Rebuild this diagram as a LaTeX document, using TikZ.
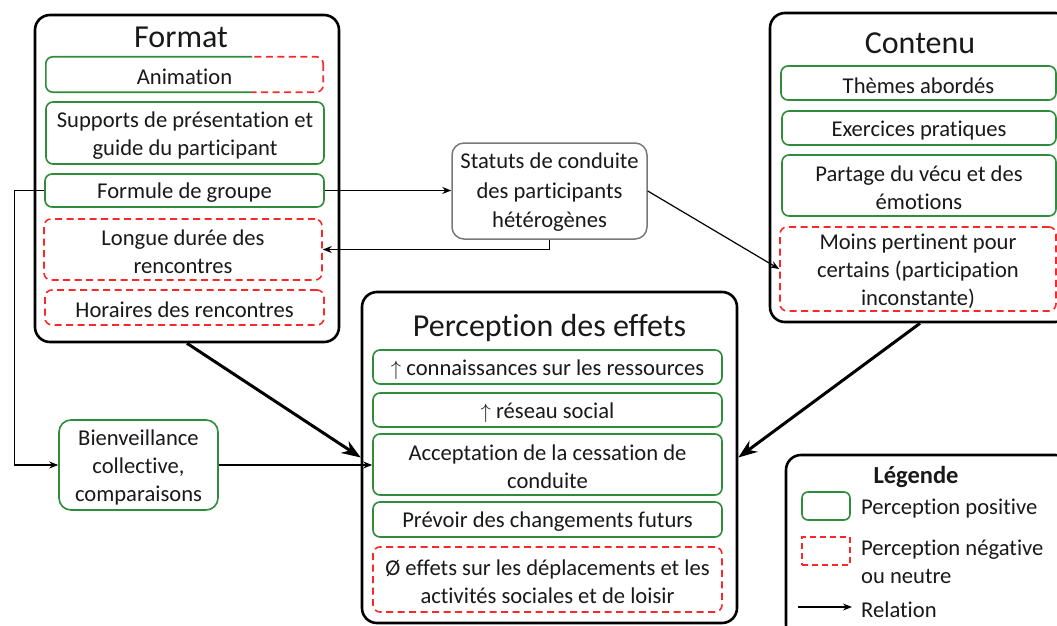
\documentclass[tikz,border=0pt]{standalone}
\usepackage{fontspec}
\setmainfont{Carlito}[Ligatures=NoCommon]
\usetikzlibrary{arrows.meta}
\definecolor{gline}{RGB}{46,140,58}
\definecolor{rline}{RGB}{250,40,40}
\definecolor{sline}{RGB}{120,120,120}
\definecolor{tcol}{RGB}{25,25,25}
% box drawn as a named node; its text as a second named node, set 2.5px lower
\newcommand\tbox[4]{\node[#1] (#2) at (#3) {}; \node[txt, inner sep=0, yshift=-2.5pt] (#2t) at (#2.center) {#4};}
\begin{document}
\begin{tikzpicture}[x=1pt,y=-1pt,
  sz/.style 2 args={minimum width=#1pt, minimum height=#2pt},
  txt/.style={font=\fontsize{22.6}{28}\selectfont, align=center, text=tcol},
  ttl/.style={font=\fontsize{32}{38}\selectfont, text=tcol, inner sep=0},
  posbox/.style={draw=gline, line width=1.6pt, rounded corners=7pt, inner sep=0},
  negbox/.style={draw=rline, line width=1.6pt, dash pattern=on 7pt off 4.5pt, rounded corners=7pt, inner sep=0},
  outerbox/.style={draw=black, line width=2.6pt, rounded corners=15pt, inner sep=0},
  rel/.style={-{Stealth[length=9pt,width=7pt]}, line width=1.2pt},
  bigarrow/.style={-{Stealth[length=19pt,width=14pt]}, line width=3pt}]
\useasboundingbox (0,0) rectangle (1057,626);
\fill[white] (0,0) rectangle (1057,626);

% outer boxes
\node[outerbox, sz={304}{327}] (fmt) at (187,178.5) {};
\node[outerbox, sz={300}{309}] (cont) at (920,167.5) {};
\node[outerbox, sz={375}{331}] (perc) at (549.5,457.5) {};
\node[outerbox, sz={284}{185}] (leg) at (928,547.5) {};

% titles
\node[ttl] (tfmt) at (181,37.5) {Format};
\node[ttl] (tcont) at (920,43.5) {Contenu};
\node[ttl] (tperc) at (549.5,327.5) {Perception des effets};

% Format items
\tbox{inner sep=0, sz={277}{35}}{anim}{184.5,74.5}{Animation}
\begin{scope}
  \clip (0,0) rectangle (252,626);
  \draw[draw=gline, line width=1.6pt, rounded corners=7pt] (anim.south west) rectangle (anim.north east);
\end{scope}
\begin{scope}
  \clip (252,0) rectangle (1057,626);
  \draw[draw=rline, line width=1.6pt, dash pattern=on 7pt off 4.5pt, rounded corners=7pt] (anim.north east) rectangle (anim.south west);
\end{scope}
\tbox{posbox, sz={278}{62}}{supp}{185,133}{Supports de présentation et\\guide du participant}
\tbox{posbox, sz={279}{33}}{form}{184.5,190.5}{Formule de groupe}
\tbox{negbox, sz={278}{61}}{long}{183,249.5}{Longue durée des\\rencontres}
\tbox{negbox, sz={279}{35}}{hor}{184.5,307.5}{Horaires des rencontres}

% Statuts
\node[draw=sline, line width=1.5pt, rounded corners=12pt, inner sep=0, sz={195}{96}] (stat) at (549.5,191) {};
\node[txt, font=\fontsize{22.6}{29.5}\selectfont, inner sep=0, yshift=-1.5pt] (statt) at (stat.center) {Statuts de conduite\\des participants\\hétérogènes};

% Contenu items
\tbox{posbox, sz={275}{34}}{them}{918.5,83}{Thèmes abordés}
\tbox{posbox, sz={274}{34}}{exer}{919,128}{Exercices pratiques}
\tbox{posbox, sz={274}{61}}{part}{919,185.5}{Partage du vécu et des\\émotions}
\tbox{negbox, sz={276}{84}}{moins}{918,269}{Moins pertinent pour\\certains (participation\\inconstante)}

% Perception items
\tbox{posbox, sz={349}{34}}{c1}{547.5,367}{\(\uparrow\) connaissances sur les ressources}
\tbox{posbox, sz={349}{34}}{c2}{547.5,410}{\(\uparrow\) réseau social}
\tbox{posbox, sz={349}{61}}{c3}{547.5,464.5}{Acceptation de la cessation de\\conduite}
\tbox{posbox, sz={349}{35}}{c4}{547.5,519.5}{Prévoir des changements futurs}
\tbox{negbox, sz={349}{65}}{c5}{547.5,579.5}{Ø effets sur les déplacements et les\\activités sociales et de loisir}

% Bienveillance
\tbox{posbox, rounded corners=12pt, sz={159}{90}}{bien}{138.5,465}{Bienveillance\\collective,\\comparaisons}

% Legend
\node[txt, font=\fontsize{24.5}{29}\selectfont\bfseries] (lt) at (916,477) {Légende};
\node[draw=gline, line width=1.6pt, rounded corners=6pt, inner sep=0, sz={48}{28}] (lg) at (826,506) {};
\node[draw=rline, line width=1.6pt, dash pattern=on 6pt off 4pt, inner sep=0, sz={48}{28}] (lr) at (826,551) {};
\node[txt, anchor=west, inner sep=0] (lgt) at (861,508.5) {Perception positive};
\node[txt, anchor=west, align=left, inner sep=0] (lrt) at (861,561.5) {Perception négative\\ou neutre};
\node[txt, anchor=west, inner sep=0] (lat) at (861,609.5) {Relation};
\coordinate (la) at (798,607);
\coordinate (lb) at (852,607);
\draw[rel] (la) -- (lb);

% connectors
\draw[rel] (form.east) -- (form.east -| stat.west);
\draw[rel] (stat.south) |- (long.east);
\draw[rel] (stat.east) -- (moins.west);
\draw[rel] (form.west) -- ++(-30,0) |- (bien.west);
\draw[rel] (bien.east) -- (bien.east -| c3.west);
\draw[bigarrow] (fmt.south) -- (perc.west);
\draw[bigarrow] (cont.south) -- (perc.east);
\end{tikzpicture}
\end{document}
